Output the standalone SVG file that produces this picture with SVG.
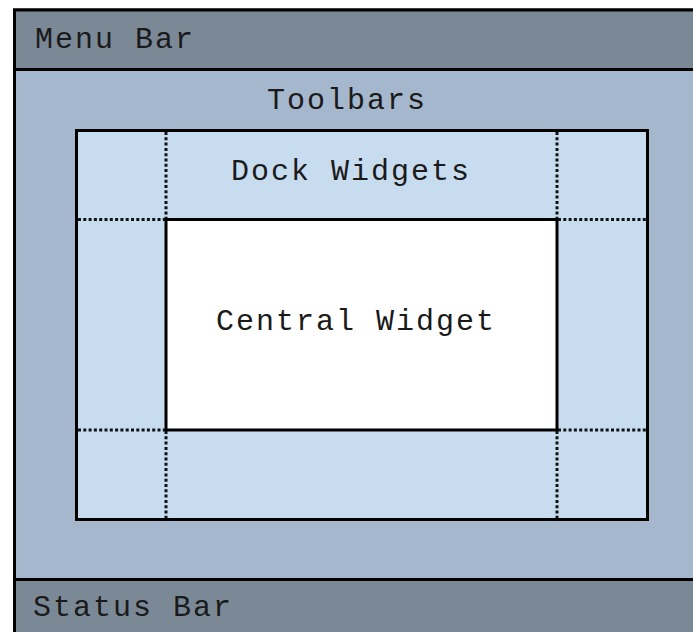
<svg xmlns="http://www.w3.org/2000/svg" width="693" height="632" viewBox="0 0 693 632">
  <style>
    .label { font-family: "Liberation Mono", "DejaVu Sans Mono", monospace; font-size: 30px; letter-spacing: 2px; fill: #1a1a1a; }
    .edge { stroke: #000; stroke-width: 3; }
    .bar { fill: #7b8997; }
    .tool { fill: #a4b7cd; }
    .dock { fill: #c8dcf0; }
    .central { fill: #ffffff; }
    .dots { stroke: #111; stroke-width: 3; stroke-dasharray: 3 2.3; fill: none; }
  </style>
  <rect x="0" y="0" width="693" height="632" fill="#ffffff"/>

  <!-- main window area (toolbar region) -->
  <g id="toolbars">
    <rect x="14.5" y="10" width="700" height="640" class="tool edge"/>
    <text class="label" x="267" y="109">Toolbars</text>
  </g>

  <g id="menu-bar">
    <rect x="14.5" y="10" width="700" height="59.5" class="bar edge"/>
    <text class="label" x="35" y="47.5">Menu Bar</text>
  </g>

  <g id="status-bar">
    <rect x="14.5" y="579.5" width="700" height="70" class="bar edge"/>
    <text class="label" x="33" y="616">Status Bar</text>
  </g>

  <g id="dock-widgets">
    <rect x="76.5" y="130.5" width="571" height="389" class="dock edge"/>
    <text class="label" x="231" y="180">Dock Widgets</text>
  </g>

  <g id="central-widget">
    <rect x="166" y="219.5" width="391" height="210.5" class="central edge"/>
    <text class="label" x="216" y="330">Central Widget</text>
  </g>

  <!-- dotted dock area dividers -->
  <g id="connectors">
    <path class="dots" d="M166 132 V218 M557 132 V218 M166 431 V518 M557 431 V518"/>
    <path class="dots" d="M78 219.5 H165 M558 219.5 H646 M78 430 H165 M558 430 H646"/>
  </g>
</svg>
